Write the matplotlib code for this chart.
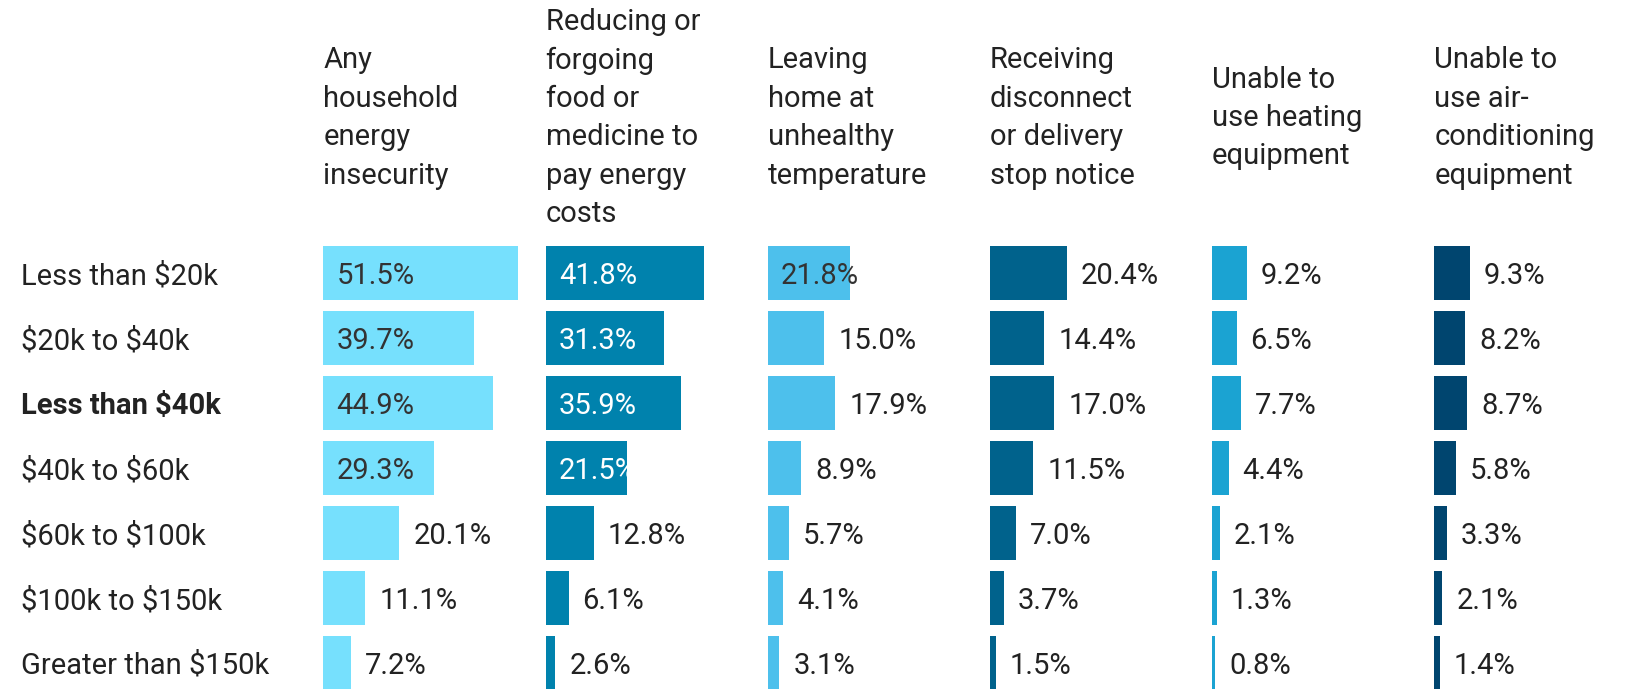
import matplotlib.pyplot as plt
from matplotlib.transforms import blended_transform_factory

plt.rcParams['font.family'] = ['Roboto', 'DejaVu Sans']
plt.rcParams['text.parse_math'] = False

incomes = ['Less than $20k', '$20k to $40k', 'Less than $40k', '$40k to $60k',
           '$60k to $100k', '$100k to $150k', 'Greater than $150k']

headers = ['Any\nhousehold\nenergy\ninsecurity',
           'Reducing or\nforgoing\nfood or\nmedicine to\npay energy\ncosts',
           'Leaving\nhome at\nunhealthy\ntemperature',
           'Receiving\ndisconnect\nor delivery\nstop notice',
           'Unable to\nuse heating\nequipment',
           'Unable to\nuse air-\nconditioning\nequipment']

any_insecurity = [51.5, 39.7, 44.9, 29.3, 20.1, 11.1, 7.2]
forgo_food_med = [41.8, 31.3, 35.9, 21.5, 12.8, 6.1, 2.6]
unhealthy_temp = [21.8, 15.0, 17.9, 8.9, 5.7, 4.1, 3.1]
disconnect_notice = [20.4, 14.4, 17.0, 11.5, 7.0, 3.7, 1.5]
no_heating = [9.2, 6.5, 7.7, 4.4, 2.1, 1.3, 0.8]
no_aircon = [9.3, 8.2, 8.7, 5.8, 3.3, 2.1, 1.4]

series = [any_insecurity, forgo_food_med, unhealthy_temp,
          disconnect_notice, no_heating, no_aircon]
colors = ['#76e0fd', '#0082ad', '#4dc0ec', '#00628c', '#1ba3d2', '#00456f']
inner_text = ['#333333', 'white', '#333333', 'white', 'white', 'white']
inside_min = 21   # values at least this big get their label inside the bar

W, H = 1634, 689
fig = plt.figure(figsize=(W / 100, H / 100), dpi=100)
fig.patch.set_facecolor('white')

px_per_pct = 3.785
col_x0 = 323.3
col_step = 222.2
ax_w = 215
row0 = 273
row_step = 65
top_px = row0 - row_step / 2
bot_px = top_px + row_step * len(incomes)
fs = 21
txt = '#222222'

axes = []
for j, vals in enumerate(series):
    x0 = col_x0 + j * col_step
    ax = fig.add_axes([x0 / W, 1 - bot_px / H, ax_w / W, (bot_px - top_px) / H])
    ax.set_xlim(0, ax_w / px_per_pct)
    ax.set_ylim(len(incomes) - 0.5, -0.5)
    ax.axis('off')
    ypos = list(range(len(incomes)))
    ax.barh(ypos, vals, height=54 / 65, color=colors[j])
    for i, v in enumerate(vals):
        lab = f'{v:.1f}%'
        if v >= inside_min:
            ax.annotate(lab, xy=(0, i), xytext=(9.6, 0), textcoords='offset points',
                        va='center_baseline', ha='left', fontsize=fs, color=inner_text[j])
        else:
            ax.annotate(lab, xy=(v, i), xytext=(10, 0), textcoords='offset points',
                        va='center_baseline', ha='left', fontsize=fs, color=txt,
                        annotation_clip=False)
    fig.text(x0 / W, 1 - 118 / H, headers[j], ha='left', va='center',
             fontsize=fs, color=txt, linespacing=1.47)
    axes.append(ax)

tr = blended_transform_factory(fig.transFigure, axes[0].transData)
for i, name in enumerate(incomes):
    axes[0].text(21 / W, i, name, transform=tr, ha='left', va='center_baseline',
                 fontsize=fs, color=txt,
                 fontweight='bold' if name == 'Less than $40k' else 'normal')

fig.savefig('out.png', dpi=100, facecolor='white')
